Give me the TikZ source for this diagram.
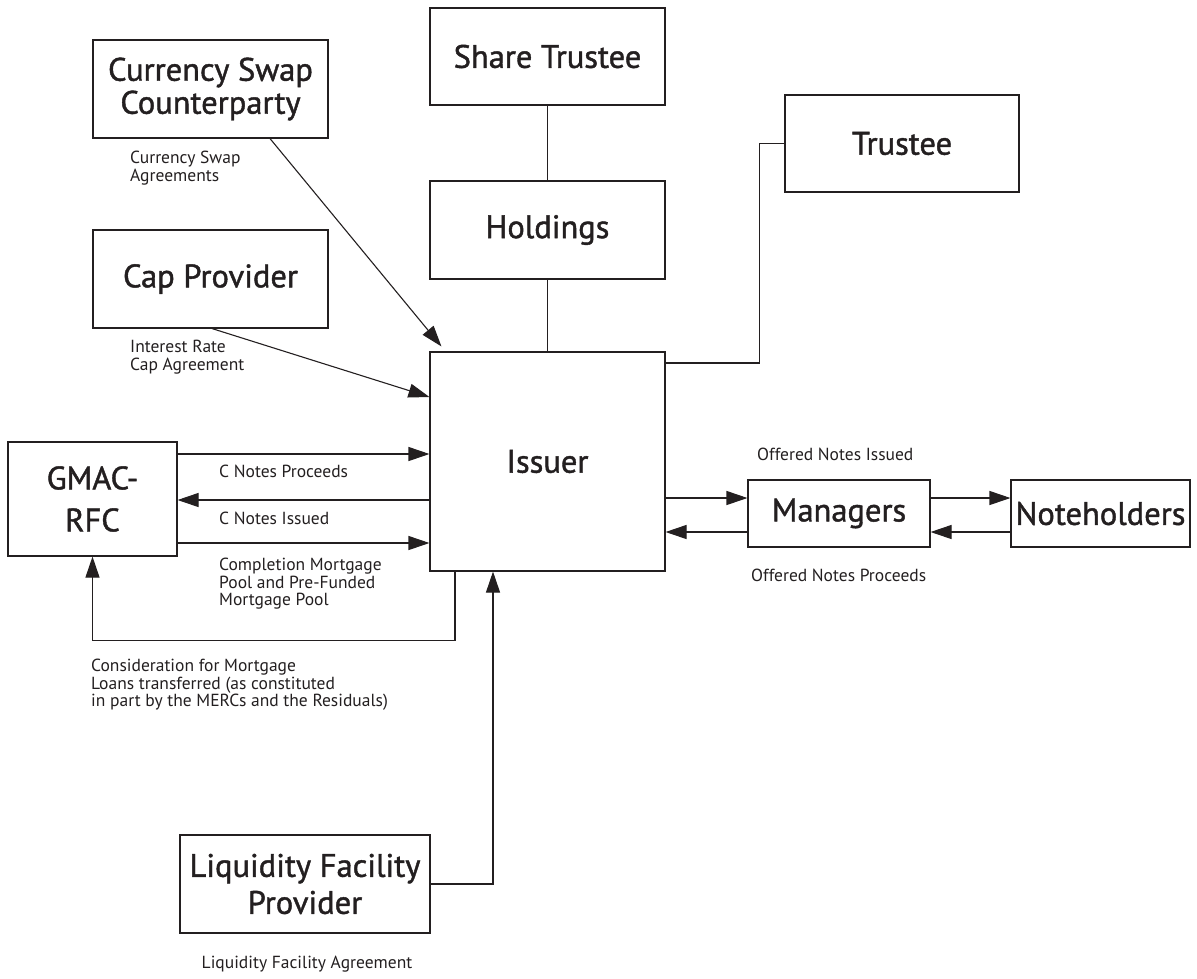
\documentclass[tikz,border=0pt]{standalone}
\usepackage{fontspec}
\setmainfont{PT Sans}
\newfontfamily\boxfont{PT Sans}[FakeBold=1.3]
\usetikzlibrary{arrows.meta}
\definecolor{ink}{HTML}{231F20}
\begin{document}
\begin{tikzpicture}[x=1pt,y=-1pt,
 ent/.style={draw=ink, text=ink, line width=1.1pt, inner sep=0pt, align=center, font=\boxfont\fontsize{32.5}{33}\selectfont},
 lbl/.style={text=ink, inner sep=0pt, anchor=north west, align=left, font=\fontsize{17.5}{17.5}\selectfont},
 conn/.style={draw=ink, line width=1.1pt},
 arr/.style={conn, -{Triangle[length=21pt,width=14pt]}}]
\useasboundingbox (0,0) rectangle (1197,978);

\node[ent, minimum width=235pt, minimum height=98pt] (cs) at (210.5,89) {Currency Swap\\Counterparty};
\node[ent, minimum width=235pt, minimum height=98pt] (cap) at (210.5,279) {Cap Provider};
\node[ent, minimum width=235pt, minimum height=97pt] (st) at (547.5,56.5) {Share Trustee};
\node[ent, minimum width=235pt, minimum height=98pt] (hold) at (547.5,230) {Holdings};
\node[ent, minimum width=234pt, minimum height=97pt] (tr) at (902,143.5) {Trustee};
\node[ent, minimum width=235pt, minimum height=219pt] (iss) at (547.5,461.5) {Issuer};
\node[ent, minimum width=169pt, minimum height=114pt, font=\boxfont\fontsize{32.5}{42}\selectfont] (gmac) at (92.5,499) {GMAC-\\RFC};
\node[ent, minimum width=182pt, minimum height=67pt] (man) at (839,513.5) {Managers};
\node[ent, minimum width=179pt, minimum height=67pt] (nh) at (1100.5,513.5) {Noteholders};
\node[ent, minimum width=250pt, minimum height=98pt, font=\boxfont\fontsize{32.5}{37}\selectfont] (lfp) at (305,884) {Liquidity Facility\\Provider};

\node[lbl] (l1) at (130,151) {Currency Swap\\Agreements};
\node[lbl] (l2) at (130,340) {Interest Rate\\Cap Agreement};
\node[lbl] (l3) at (219,465) {C Notes Proceeds};
\node[lbl] (l4) at (219,512) {C Notes Issued};
\node[lbl] (l5) at (219,558) {Completion Mortgage\\Pool and Pre-Funded\\Mortgage Pool};
\node[lbl] (l6) at (91,659) {Consideration for Mortgage\\Loans transferred (as constituted\\in part by the MERCs and the Residuals)};
\node[lbl] (l7) at (757,448) {Offered Notes Issued};
\node[lbl] (l8) at (751,569) {Offered Notes Proceeds};
\node[lbl, anchor=north] (l9) at (307,956) {Liquidity Facility Agreement};

\draw[conn] (st.south) -- (hold.north);
\draw[conn] (hold.south) -- (iss.north);
\draw[conn] (iss.east |- 0,363) -| ([xshift=-25pt]tr.west) -- (tr.west);
\draw[arr] (cs.south -| 270,0) -- ([shift={(12pt,5pt)}]iss.north west);
\draw[arr] (cap.south -| 212,0) -- (iss.west |- 0,397);
\draw[arr] (gmac.east |- 0,454) -- (iss.west |- 0,454);
\draw[arr] (iss.west |- 0,500) -- (gmac.east |- 0,500);
\draw[arr] (gmac.east |- 0,543) -- (iss.west |- 0,543);
\draw[arr] (iss.south -| 455,0) |- ([yshift=-84pt]gmac.south) -- (gmac.south);
\draw[arr] (iss.east |- 0,498) -- (man.west |- 0,498);
\draw[arr] (man.west |- 0,532) -- (iss.east |- 0,532);
\draw[arr] (man.east |- 0,498) -- (nh.west |- 0,498);
\draw[arr] (nh.west |- 0,532) -- (man.east |- 0,532);
\draw[arr] (lfp.east) -| (iss.south -| 493,0);
\end{tikzpicture}
\end{document}
